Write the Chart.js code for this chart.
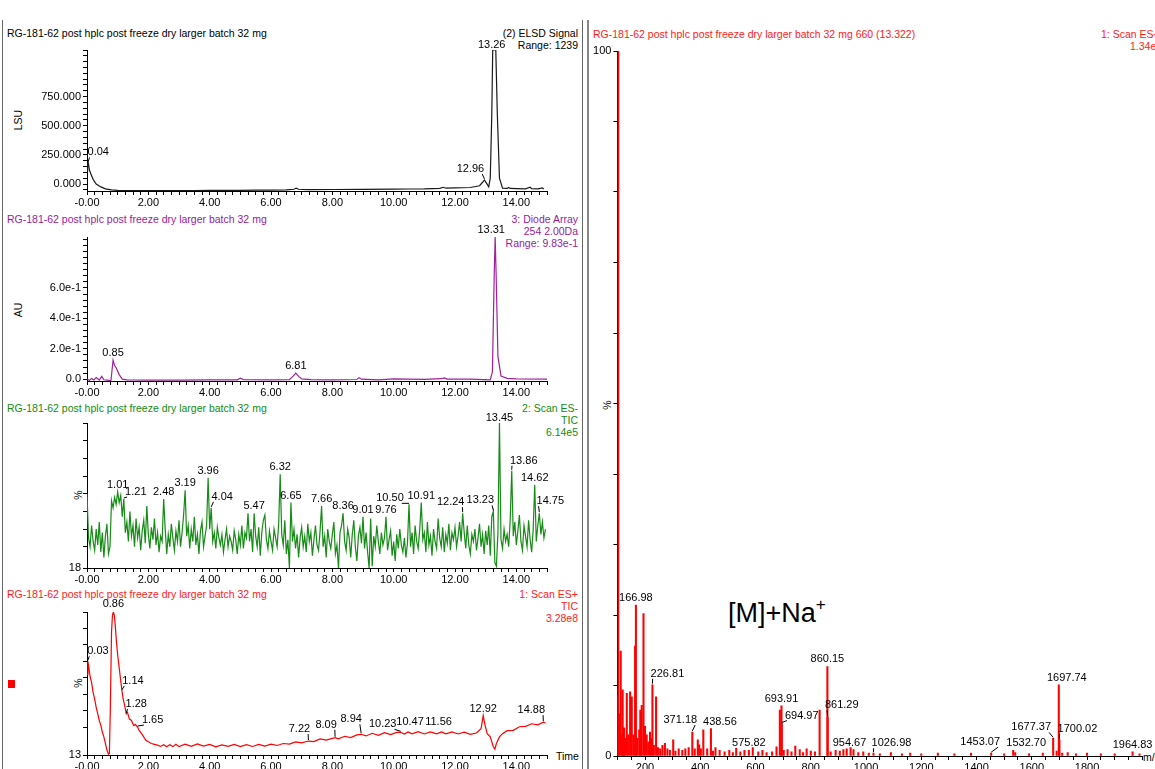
<!DOCTYPE html>
<html>
<head>
<meta charset="utf-8">
<script src="https://cdn.jsdelivr.net/npm/chart.js@4.4.1/dist/chart.umd.min.js"></script>
<style>
html, body { margin: 0; padding: 0; background: #fff; width: 1155px; height: 769px; overflow: hidden; }
body { position: relative; font-family: "Liberation Sans", Arial, sans-serif; font-size: 10.5px; }
.t { position: absolute; line-height: 12px; white-space: nowrap; }
.rot { position: absolute; line-height: 12px; white-space: nowrap; transform: translate(-50%, -50%) rotate(-90deg); }
canvas { position: absolute; }
.vline { position: absolute; top: 20px; bottom: 0; background: #666; }
</style>
</head>
<body>
<div class="vline" style="left:2px;width:1px"></div>
<div class="vline" style="left:582px;width:1px"></div>
<div class="vline" style="left:587px;width:2px;background:#888"></div>

<!-- ELSD -->
<div class="t" style="left:7px;top:27px">RG-181-62 post hplc post freeze dry larger batch 32 mg</div>
<div class="t" style="right:577px;top:27px;text-align:right">(2) ELSD Signal</div>
<div class="t" style="right:577px;top:39px;text-align:right">Range: 1239</div>
<div class="rot" style="left:18px;top:120px">LSU</div>

<!-- diode array -->
<div class="t" style="left:7px;top:213px;color:#9a1a9a">RG-181-62 post hplc post freeze dry larger batch 32 mg</div>
<div class="t" style="right:577px;top:213px;text-align:right;color:#9a1a9a">3: Diode Array</div>
<div class="t" style="right:577px;top:225px;text-align:right;color:#9a1a9a">254 2.00Da</div>
<div class="t" style="right:577px;top:237px;text-align:right;color:#9a1a9a">Range: 9.83e-1</div>
<div class="rot" style="left:18px;top:310px">AU</div>

<!-- ES- -->
<div class="t" style="left:7px;top:402px;color:#118c11">RG-181-62 post hplc post freeze dry larger batch 32 mg</div>
<div class="t" style="right:577px;top:402px;text-align:right;color:#118c11">2: Scan ES-</div>
<div class="t" style="right:577px;top:414px;text-align:right;color:#118c11">TIC</div>
<div class="t" style="right:577px;top:426px;text-align:right;color:#118c11">6.14e5</div>
<div class="rot" style="left:78px;top:495px">%</div>

<!-- ES+ -->
<div class="t" style="left:7px;top:588px;color:#ff1a1a">RG-181-62 post hplc post freeze dry larger batch 32 mg</div>
<div class="t" style="right:577px;top:588px;text-align:right;color:#ff1a1a">1: Scan ES+</div>
<div class="t" style="right:577px;top:600px;text-align:right;color:#ff1a1a">TIC</div>
<div class="t" style="right:577px;top:612px;text-align:right;color:#ff1a1a">3.28e8</div>
<div class="rot" style="left:78px;top:683px">%</div>
<div class="t" style="left:556px;top:750px">Time</div>
<div style="position:absolute;left:8px;top:680px;width:7px;height:8px;background:#ff0000"></div>

<!-- spectrum -->
<div class="t" style="left:593px;top:28px;color:#ff1a1a">RG-181-62 post hplc post freeze dry larger batch 32 mg 660 (13.322)</div>
<div class="t" style="left:1101px;top:28px;color:#ff1a1a">1: Scan ES+</div>
<div class="t" style="left:1130px;top:40px;color:#ff1a1a">1.34e7</div>
<div class="rot" style="left:607px;top:405px">%</div>
<div class="t" style="left:1143px;top:751px">m/z</div>
<div class="t" style="left:728px;top:590px;font-size:27px;line-height:30px">[M]+Na<sup style="font-size:17px;vertical-align:12px">+</sup></div>

<canvas id="elsd" width="582" height="185" style="left:0;top:30px"></canvas>
<canvas id="dad" width="582" height="188" style="left:0;top:217px"></canvas>
<canvas id="esneg" width="582" height="189" style="left:0;top:403px"></canvas>
<canvas id="espos" width="582" height="187" style="left:0;top:592px"></canvas>
<canvas id="ms" width="600" height="749" style="left:588px;top:31px"></canvas>

<script>
// ELSD trace (min, LSU)
const elsdTime = [
    0.00, 0.02, 0.04, 0.08, 0.12, 0.20, 0.30, 0.45, 0.60, 0.80,
    1.00, 1.50, 2.00, 2.50, 3.00, 3.50, 4.00, 4.50, 5.00, 5.50,
    6.00, 6.50, 6.75, 6.82, 6.90, 7.20, 8.00, 9.00, 10.00, 10.50,
    11.00, 11.50, 11.62, 11.70, 12.00, 12.50, 12.80, 12.90, 12.96, 13.02,
    13.10, 13.15, 13.20, 13.23, 13.33, 13.38, 13.45, 13.55, 13.70, 13.75,
    13.80, 14.00, 14.30, 14.45, 14.50, 14.70, 14.85, 14.90
];
const elsdLsu = [
    110, 170, 185, 120, 90, 40, 0, -25, -42, -50,
    -55, -56, -57, -57, -56, -56, -55, -55, -54, -53,
    -52, -50, -45, -35, -45, -48, -47, -46, -44, -43,
    -42, -38, -28, -36, -34, -30, -15, 15, 35, 10,
    -25, 50, 600, 1150, 1150, 600, 50, -35, -38, -30,
    -38, -40, -42, -28, -40, -42, -34, -44
];
const elsdPeaks = [0.04, 12.96, 13.26];

// diode array 254 nm (min, AU)
const dadTime = [
    0.00, 0.08, 0.15, 0.22, 0.30, 0.40, 0.48, 0.55, 0.65, 0.78,
    0.85, 0.90, 0.95, 1.05, 1.15, 1.30, 2.00, 3.00, 4.00, 4.90,
    5.00, 5.10, 6.00, 6.60, 6.72, 6.81, 6.90, 7.00, 7.30, 8.00,
    8.80, 8.87, 8.95, 9.50, 10.00, 11.00, 11.55, 11.65, 11.75, 12.50,
    13.15, 13.22, 13.28, 13.31, 13.34, 13.40, 13.50, 13.70, 14.00, 15.00
];
const dadAu = [
    0.0, -0.008, 0.005, -0.005, 0.01, -0.006, 0.018, -0.004, -0.006, -0.01,
    0.125, 0.09, 0.075, 0.03, 0.0, -0.005, -0.006, -0.006, -0.005, -0.004,
    0.006, -0.003, -0.004, -0.003, 0.02, 0.04, 0.018, 0.002, -0.003, -0.004,
    -0.002, 0.01, 0.0, -0.004, 0.002, -0.001, 0.003, 0.008, 0.0, 0.0,
    -0.004, 0.05, 0.7, 0.935, 0.7, 0.15, 0.02, 0.005, 0.002, 0.0
];
const dadPeaks = [0.85, 6.81, 13.31];

// ES- TIC, one scan every 0.05 min starting at 0.00 (%)
const esNegStep = 0.05;
const esNegTic = [
    60, 35, 30, 42, 33, 28, 40, 31, 44, 27, 38, 24, 36, 43, 26, 30, 56, 52, 58, 54,
    61, 55, 59, 47, 57, 38, 44, 33, 50, 36, 42, 30, 46, 35, 41, 28, 39, 45, 32, 53,
    37, 29, 41, 34, 46, 31, 38, 27, 36, 33, 57, 40, 26, 37, 30, 43, 35, 28, 39, 33,
    45, 30, 38, 48, 62, 36, 42, 29, 40, 33, 47, 31, 37, 26, 39, 44, 30, 36, 42, 69,
    40, 52, 33, 38, 29, 41, 35, 31, 37, 27, 34, 40, 30, 36, 33, 28, 39, 34, 26, 37,
    31, 42, 29, 38, 35, 49, 33, 40, 27, 49, 36, 30, 41, 25, 38, 45, 48, 34, 29, 39,
    33, 28, 40, 35, 30, 43, 71, 37, 31, 45, 26, 34, 18, 55, 33, 40, 29, 37, 24, 35,
    41, 30, 36, 27, 43, 33, 38, 25, 34, 42, 31, 28, 39, 53, 30, 36, 24, 40, 33, 29,
    37, 44, 26, 31, 18, 38, 42, 49, 33, 28, 40, 35, 24, 37, 45, 30, 22, 36, 41, 32,
    47, 29, 38, 27, 18, 46, 19, 36, 30, 42, 33, 26, 38, 31, 35, 47, 28, 34, 39, 25,
    33, 22, 37, 29, 40, 31, 27, 35, 24, 32, 54, 30, 38, 26, 42, 33, 29, 40, 55, 34,
    38, 27, 44, 31, 36, 25, 40, 33, 29, 46, 35, 30, 41, 27, 37, 32, 43, 28, 38, 34,
    41, 30, 36, 44, 33, 49, 38, 29, 42, 31, 26, 37, 33, 40, 28, 35, 43, 30, 37, 26,
    39, 31, 42, 25, 47, 50, 21, 19, 38, 100, 34, 29, 40, 33, 37, 30, 45, 73, 36, 44,
    31, 39, 48, 33, 28, 42, 36, 30, 45, 34, 27, 40, 65, 33, 42, 49, 37, 44, 35, 40
];
const esNegPeaks = [1.01, 1.21, 2.48, 3.19, 3.96, 4.04, 5.47, 6.32, 6.65, 7.66, 8.36, 9.01,
    9.76, 10.50, 10.91, 12.24, 13.23, 13.45, 13.86, 14.62, 14.75];

// ES+ TIC (min, %)
const esPosTime = [
    0.00, 0.03, 0.06, 0.10, 0.15, 0.20, 0.25, 0.30, 0.35, 0.40,
    0.45, 0.50, 0.55, 0.60, 0.65, 0.70, 0.73, 0.76, 0.80, 0.83,
    0.86, 0.89, 0.92, 0.96, 1.00, 1.05, 1.10, 1.14, 1.18, 1.22,
    1.28, 1.32, 1.38, 1.45, 1.52, 1.58, 1.65, 1.70, 1.78, 1.85,
    1.92, 2.00, 2.10, 2.20, 2.30, 2.40, 2.50, 2.60, 2.70, 2.80,
    2.90, 3.00, 3.20, 3.40, 3.60, 3.80, 4.00, 4.20, 4.40, 4.60,
    4.80, 5.00, 5.20, 5.40, 5.60, 5.80, 6.00, 6.20, 6.40, 6.60,
    6.80, 7.00, 7.22, 7.40, 7.60, 7.80, 8.09, 8.20, 8.40, 8.60,
    8.80, 8.94, 9.10, 9.30, 9.50, 9.70, 9.90, 10.10, 10.23, 10.35,
    10.47, 10.60, 10.80, 11.00, 11.20, 11.40, 11.56, 11.70, 11.90, 12.10,
    12.30, 12.50, 12.70, 12.85, 12.92, 12.97, 13.05, 13.15, 13.25, 13.30,
    13.35, 13.45, 13.55, 13.70, 13.90, 14.10, 14.30, 14.50, 14.70, 14.88,
    14.95
];
const esPosTic = [
    62, 70, 66, 61, 57, 51, 47, 42, 38, 34,
    31, 27, 24, 20, 16, 13.5, 14, 40, 88, 98,
    100, 98, 92, 82, 74, 66, 58, 52, 47, 44,
    38, 39, 35, 34, 31, 31.5, 30, 28, 26, 24,
    22, 21, 20, 19.5, 19, 18.2, 19.3, 18, 19.2, 18.1,
    19.5, 18.1, 19.6, 18.3, 19.8, 18.4, 19.4, 18, 19.2, 18.3,
    19.4, 18.1, 19.3, 18.2, 19.5, 18.4, 19.6, 18.8, 20, 19.6,
    21, 20.4, 21.5, 21.2, 22.8, 22.1, 23.5, 22.8, 24.4, 23.6,
    25.2, 25.6, 24.6, 26.2, 25, 26.6, 25.4, 26.8, 26.8, 25.8,
    27, 25.9, 27.2, 25.8, 27, 25.9, 27, 25.9, 27, 25.8,
    26.9, 25.6, 26.4, 29, 37, 32, 26, 24, 18, 16.5,
    20, 24, 26, 27.8, 28, 30.2, 30.4, 32, 31.4, 33,
    32.5
];
const esPosPeaks = [0.03, 0.86, 1.14, 1.28, 1.65, 7.22, 8.09, 8.94, 10.23, 10.47, 11.56, 12.92, 14.88];

// scan 660 (13.322) spectrum (m/z, %)
const msMz = [
    101, 103, 106, 112, 116, 119, 124, 128, 134, 139,
    146, 152, 158, 164, 166.98, 172, 179, 183, 188, 194.5,
    200, 206, 212, 218, 222, 226.81, 232, 240, 247, 255,
    263, 272, 281, 290, 302, 310, 322, 335, 346, 358,
    371.18, 380, 391, 396, 402, 411, 425, 438.56, 446, 455,
    470, 488, 505, 518, 530, 545, 560, 575.82, 590, 610,
    625, 640, 660, 676, 688, 693.91, 694.97, 702, 716, 730,
    744, 760, 772, 785, 800, 815, 832, 860.15, 861.29, 872,
    890, 905, 918, 930, 944, 954.67, 972, 990, 1010, 1026.98,
    1050, 1090, 1130, 1160, 1200, 1260, 1320, 1380, 1453.07, 1500,
    1532.70, 1540, 1590, 1640, 1677.37, 1690, 1697.74, 1700.02, 1710, 1730,
    1760, 1800, 1850, 1900, 1964.83, 1990
];
const msIntensity = [
    8.6, 100, 6, 14.9, 3, 9.4, 4, 2.5, 8.9, 3,
    9.1, 8.4, 3, 15.6, 21.4, 2.5, 3.7, 6.5, 7.2, 20.2,
    4.2, 3, 2, 3.4, 2.5, 10.1, 1.5, 8.4, 1.2, 1,
    1.5, 1.8, 1, 0.8, 2.3, 0.7, 1, 0.8, 1, 1.2,
    3.4, 1, 2.3, 1.6, 1, 3.7, 1, 3.9, 0.7, 1.2,
    0.8, 0.6, 0.8, 0.5, 1.1, 0.6, 0.8, 0.8, 1.2, 0.6,
    0.8, 0.5, 0.6, 1.3, 6.5, 7.1, 4.6, 0.8, 0.9, 0.6,
    1.4, 0.9, 0.5, 1, 0.7, 0.6, 6.5, 12.7, 5.5, 0.6,
    0.8, 0.7, 0.9, 1, 1.2, 0.9, 0.5, 0.6, 0.4, 0.4,
    0.3, 0.5, 0.3, 0.4, 0.3, 0.4, 0.3, 0.4, 0.4, 0.3,
    0.8, 0.5, 0.3, 0.4, 2.5, 0.7, 10.1, 2.3, 0.4, 0.5,
    0.3, 0.4, 0.3, 0.3, 0.6, 0.3
];
const msPeaks = [166.98, 226.81, 371.18, 438.56, 575.82, 693.91, 694.97, 860.15, 861.29,
    954.67, 1026.98, 1453.07, 1532.70, 1677.37, 1697.74, 1700.02, 1964.83];

const FONT = '"Liberation Sans", Arial, sans-serif';
Chart.defaults.font.family = FONT;
Chart.defaults.font.size = 11;
Chart.defaults.color = '#000';

// label placement: [dx, dy, leader] in px from the peak top
const elsdNudge = { '13.26': [-1, -5], '12.96': [-14, -11, 1], '0.04': [10, -10, 1] };
const dadNudge = { '13.31': [-4, -7] };
const esNegNudge = {
    '1.21': [12, -7, 1], '4.04': [11, -11, 1], '10.50': [-19, -6, 1], '12.24': [-12, -11, 1],
    '13.23': [-13, -11, 1], '13.86': [12, -10, 1], '14.75': [11, -12, 1], '13.45': [0, -5]
};
const esPosNudge = {
    '0.03': [10, -10, 1], '0.86': [0, -8], '1.14': [11, -10, 1], '1.28': [10, -10, 1], '1.65': [15, -7, 1],
    '7.22': [-9, -12, 1], '8.09': [-9, -13, 1], '8.94': [-10, -15, 1], '10.23': [-18, -8, 1],
    '10.47': [2, -10], '11.56': [-3, -10], '14.88': [-12, -12, 1]
};
const msNudge = {
    '226.81': [15, -11, 1], '371.18': [-12, -12, 1], '438.56': [9, -7], '694.97': [20, -8, 1], '861.29': [14, -12, 1],
    '954.67': [-4, -7], '1026.98': [18, -10, 1], '1453.07': [-11, -11, 1], '1532.70': [13, -7],
    '1677.37': [-22, -11, 1], '1697.74': [8, -7], '1700.02': [18, -11, 1]
};

const peakLabels = {
    id: 'peakLabels',
    afterDatasetsDraw(chart, args, opts) {
        const peaks = opts.peaks || [];
        if (!peaks.length) return;
        const ctx = chart.ctx;
        const xs = chart.scales.x, ys = chart.scales.y;
        const pts = chart.data.datasets[0].data;
        ctx.save();
        ctx.font = '11px ' + FONT;
        ctx.fillStyle = '#000';
        ctx.strokeStyle = '#000';
        ctx.lineWidth = 1;
        ctx.textAlign = 'center';
        ctx.textBaseline = 'middle';
        peaks.forEach(at => {
            let best = pts[0];
            pts.forEach(p => { if (Math.abs(p.x - at) < Math.abs(best.x - at)) best = p; });
            const text = at.toFixed(2);
            const px = xs.getPixelForValue(best.x), py = ys.getPixelForValue(best.y);
            const n = (opts.nudge || {})[text] || [0, -7];
            const tx = px + n[0], ty = py + n[1];
            if (n[2]) {
                const w = ctx.measureText(text).width;
                const s = Math.sign(n[0]);
                ctx.beginPath();
                ctx.moveTo(px, py - 1);
                ctx.lineTo(tx - s * (w / 2 - 2), ty + 5);
                ctx.stroke();
            }
            ctx.fillText(text, tx, ty);
        });
        ctx.restore();
    }
};
Chart.register(peakLabels);

function toPoints(xs, ys) { return xs.map((x, i) => ({ x: x, y: ys[i] })); }

function axisStyle() {
    return {
        border: { display: true, color: '#000', width: 1 },
        grid: { drawOnChartArea: false, drawTicks: true, tickLength: 4, color: '#000', offset: false }
    };
}

function timeAxis() {
    return Object.assign(axisStyle(), {
        type: 'linear', min: 0, max: 15,
        afterFit: s => { s.height = 24; },
        ticks: {
            stepSize: 0.25, autoSkip: false, maxRotation: 0, padding: 1,
            callback: v => (Math.abs(v % 2) < 1e-9 ? (v === 0 ? '-0.00' : v.toFixed(2)) : '')
        }
    });
}

function levelAxis(min, max, step, bounds, label) {
    return Object.assign(axisStyle(), {
        min: min, max: max,
        afterFit: s => { s.width = 87; },
        ticks: { stepSize: step, includeBounds: bounds, autoSkip: false, padding: 2, callback: label }
    });
}

function traceChart(id, points, color, yAxis, peaks, nudge) {
    return new Chart(document.getElementById(id), {
        type: 'line',
        data: { datasets: [{ data: points, borderColor: color, borderWidth: 1.2, pointRadius: 0, tension: 0, fill: false }] },
        options: {
            responsive: false, animation: false, events: [],
            layout: { padding: { top: 20, right: 35, left: 0, bottom: 0 } },
            scales: { x: timeAxis(), y: yAxis },
            plugins: { legend: { display: false }, tooltip: { enabled: false }, peakLabels: { peaks: peaks, nudge: nudge } }
        }
    });
}

traceChart('elsd', toPoints(elsdTime, elsdLsu), '#1a1a1a',
    levelAxis(-60, 1150, 50, false, v => (v >= 0 && v <= 750 && v % 250 === 0) ? v.toFixed(3) : ''),
    elsdPeaks, elsdNudge);

traceChart('dad', toPoints(dadTime, dadAu), '#a0209f',
    levelAxis(-0.012, 0.935, 0.04, false, v => {
        const k = Math.round(v * 5);
        if (Math.abs(v * 5 - k) > 1e-6 || k < 0 || k > 3) return '';
        return k === 0 ? '0.0' : (k * 2).toFixed(1) + 'e-1';
    }),
    dadPeaks, dadNudge);

traceChart('esneg', esNegTic.map((v, i) => ({ x: +(i * esNegStep).toFixed(2), y: v })), '#168c16',
    levelAxis(18, 100, 10, true, v => v === 18 ? '18' : ''),
    esNegPeaks, esNegNudge);

traceChart('espos', toPoints(esPosTime, esPosTic), '#ff0000',
    levelAxis(13, 100, 10, true, v => v === 13 ? '13' : ''),
    esPosPeaks, esPosNudge);

// mass spectrum
new Chart(document.getElementById('ms'), {
    type: 'bar',
    data: { datasets: [{ data: toPoints(msMz, msIntensity), backgroundColor: '#ff0000', barThickness: 1.4, borderWidth: 0 }] },
    options: {
        responsive: false, animation: false, events: [],
        layout: { padding: { top: 20, right: 45.7, left: 0, bottom: 0 } },
        scales: {
            x: Object.assign(axisStyle(), {
                type: 'linear', min: 100, max: 2000, offset: false,
                afterFit: s => { s.height = 24; },
                ticks: { stepSize: 50, autoSkip: false, maxRotation: 0, padding: 1,
                    callback: v => (v % 200 === 0 && v < 2000) ? String(v) : '' }
            }),
            y: Object.assign(axisStyle(), {
                min: 0, max: 100,
                afterFit: s => { s.width = 29.4; },
                ticks: { stepSize: 10, autoSkip: false, padding: 2,
                    callback: v => (v === 0 || v === 100) ? String(v) : '' }
            })
        },
        plugins: { legend: { display: false }, tooltip: { enabled: false }, peakLabels: { peaks: msPeaks, nudge: msNudge } }
    }
});
</script>
</body>
</html>
